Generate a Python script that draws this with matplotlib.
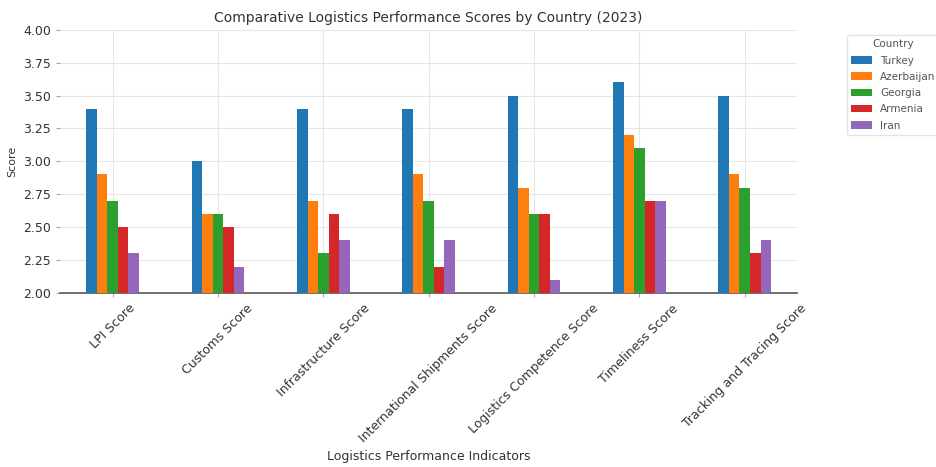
import matplotlib
matplotlib.use("Agg")
import matplotlib.pyplot as plt
import numpy as np

indicators = ['LPI Score', 'Customs Score', 'Infrastructure Score',
              'International Shipments Score', 'Logistics Competence Score',
              'Timeliness Score', 'Tracking and Tracing Score']
countries = ['Turkey', 'Azerbaijan', 'Georgia', 'Armenia', 'Iran']

turkey = [3.4, 3.0, 3.4, 3.4, 3.5, 3.6, 3.5]
azerbaijan = [2.9, 2.6, 2.7, 2.9, 2.8, 3.2, 2.9]
georgia = [2.7, 2.6, 2.3, 2.7, 2.6, 3.1, 2.8]
armenia = [2.5, 2.5, 2.6, 2.2, 2.6, 2.7, 2.3]
iran = [2.3, 2.2, 2.4, 2.4, 2.1, 2.7, 2.4]

series = [turkey, azerbaijan, georgia, armenia, iran]
colors = ['#1f77b4', '#ff7f0e', '#2ca02c', '#d62728', '#9467bd']

fig = plt.figure(figsize=(9.37, 4.67), dpi=100)
ax = fig.add_axes([0.064, 0.373, 0.787, 0.563])

x = np.arange(len(indicators))
w = 0.1
for i, (vals, name) in enumerate(zip(series, countries)):
    ax.bar(x + (i - 2) * w, vals, w, label=name, color=colors[i], zorder=3)

ax.set_ylim(2.0, 4.0)
ax.set_xlim(-0.5, len(indicators) - 0.5)
ax.set_yticks(np.arange(2.0, 4.01, 0.25))
ax.set_yticklabels(['%.2f' % v for v in np.arange(2.0, 4.01, 0.25)], fontsize=9, color='#333333')
ax.set_xticks(x)
ax.set_xticklabels(indicators, rotation=45, fontsize=9, color='#333333')
ax.grid(True, color='#e6e6e6', linewidth=0.8, zorder=0)

for s in ['top', 'right', 'left']:
    ax.spines[s].set_visible(False)
ax.spines['bottom'].set_color('#555555')
ax.spines['bottom'].set_linewidth(1.2)
ax.tick_params(axis='y', length=3, color='#aaaaaa')
ax.tick_params(axis='x', length=3, color='#aaaaaa')

ax.set_title('Comparative Logistics Performance Scores by Country (2023)', fontsize=10, color='#333333')
ax.set_xlabel('Logistics Performance Indicators', fontsize=9, color='#333333')
ax.set_ylabel('Score', fontsize=8, color='#333333')

leg = ax.legend(title='Country', bbox_to_anchor=(1.06, 1.0), loc='upper left',
                fontsize=7.5, title_fontsize=7.5, labelspacing=0.6,
                frameon=True, edgecolor='#dddddd')
for t in leg.get_texts():
    t.set_color('#555555')
leg.get_title().set_color('#555555')

fig.savefig('out.png', dpi=100)
